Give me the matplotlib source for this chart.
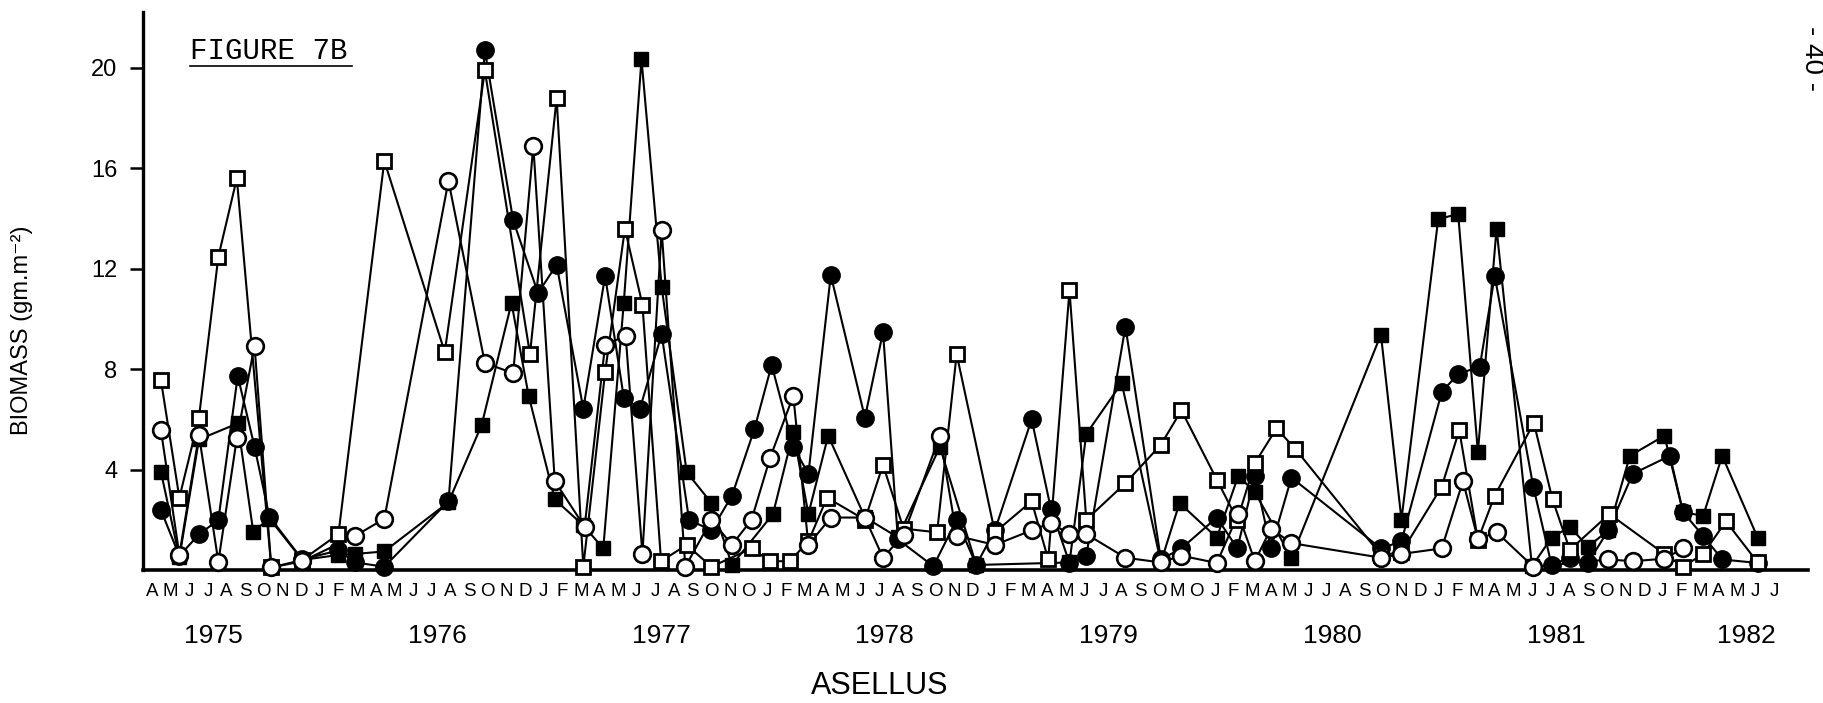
import matplotlib.pyplot as plt
from matplotlib.lines import Line2D
from matplotlib.transforms import blended_transform_factory

plt.rcParams['font.family'] = ['Liberation Sans', 'DejaVu Sans']

# month letters under the axis, as printed (typos kept)
month_labels = (list("AMJJASOND") + list("JFMAMJJASOND") + list("JFMAMJJASONO")
                + list("JFMAMJJASOND") + list("JFMAMJJASOMO") + list("JFMAMJJASOND")
                + list("JFMAMJJASOND") + list("JFMAMJJ"))
years = ['1975', '1976', '1977', '1978', '1979', '1980', '1981', '1982']

# (month index from April 1975, biomass)
filled_circle = [
    (0.48, 2.39), (1.47, 0.56), (2.52, 1.42), (3.56, 1.99), (4.6, 7.73), (5.5, 4.91),
    (6.3, 2.12), (8.06, 0.42), (10.0, 0.78), (10.9, 0.3), (12.46, 0.13), (15.9, 2.74),
    (17.85, 20.7), (19.37, 13.93), (20.7, 11.03), (21.7, 12.16), (23.13, 6.43),
    (24.3, 11.72), (25.3, 6.87), (26.17, 6.43), (27.33, 9.4), (28.8, 2.0), (30.0, 1.58),
    (31.1, 2.96), (32.3, 5.6), (33.23, 8.17), (34.39, 4.91), (35.2, 3.83), (36.4, 11.75),
    (38.23, 6.07), (39.2, 9.48), (40.0, 1.22), (41.9, 0.15), (43.15, 2.0), (44.2, 0.2),
    (45.2, 1.58), (47.17, 6.0), (48.2, 2.45), (49.2, 0.28), (50.1, 0.57), (52.2, 9.7),
    (54.1, 0.42), (55.2, 0.86), (57.1, 2.09), (58.2, 0.86), (59.14, 3.75), (60.0, 0.86),
    (61.1, 3.68), (65.9, 0.86), (67.0, 1.14), (69.16, 7.09), (70.04, 7.81), (71.2, 8.1),
    (72.0, 11.72), (74.07, 3.32), (75.05, 0.2), (76.03, 0.49), (77.0, 0.28), (78.09, 1.58),
    (79.4, 3.83), (81.4, 4.55), (82.1, 2.3), (83.18, 1.36), (84.2, 0.42), (86.1, 0.28),
]
open_circle = [
    (0.48, 5.58), (1.47, 0.6), (2.52, 5.38), (3.56, 0.33), (4.55, 5.24), (5.5, 8.94),
    (6.4, 0.1), (8.06, 0.35), (10.9, 1.36), (12.46, 2.04), (15.9, 15.5), (17.85, 8.25),
    (19.37, 7.84), (20.45, 16.9), (21.6, 3.54), (23.2, 1.72), (24.3, 8.97), (25.4, 9.33),
    (26.3, 0.64), (27.33, 13.54), (28.6, 0.13), (30.0, 2.0), (31.1, 1.0), (32.15, 2.0),
    (33.15, 4.48), (34.39, 6.94), (35.2, 1.0), (36.4, 2.09), (38.23, 2.09), (39.2, 0.49),
    (40.3, 1.4), (42.25, 5.35), (43.15, 1.36), (45.2, 1.0), (47.17, 1.58), (48.2, 1.87),
    (49.2, 1.43), (50.1, 1.43), (52.2, 0.49), (54.1, 0.3), (55.2, 0.57), (57.1, 0.28),
    (58.25, 2.23), (59.14, 0.35), (60.0, 1.65), (61.1, 1.07), (65.9, 0.49), (67.0, 0.64),
    (69.16, 0.86), (70.3, 3.54), (71.1, 1.22), (72.1, 1.51), (74.07, 0.13), (78.09, 0.42),
    (79.4, 0.35), (81.1, 0.45), (82.1, 0.86),
]
filled_square = [
    (0.48, 3.92), (1.47, 0.5), (2.52, 5.2), (4.6, 5.84), (5.43, 1.53), (6.3, 2.05),
    (8.06, 0.4), (10.0, 0.6), (10.9, 0.64), (12.46, 0.74), (15.9, 2.7), (17.68, 5.78),
    (19.28, 10.64), (20.2, 6.94), (21.6, 2.81), (23.1, 1.8), (24.2, 0.86), (25.3, 10.64),
    (26.25, 20.35), (27.33, 11.29), (28.67, 3.9), (30.0, 2.67), (31.1, 0.2), (33.3, 2.23),
    (34.39, 5.49), (35.2, 2.23), (36.26, 5.35), (38.23, 2.1), (40.0, 1.3), (42.25, 4.91),
    (44.2, 0.2), (49.2, 0.3), (50.1, 5.42), (52.0, 7.45), (54.1, 0.3), (55.1, 2.67),
    (57.1, 1.29), (58.25, 3.75), (59.14, 3.1), (61.1, 0.49), (65.9, 9.38), (67.0, 2.01),
    (68.97, 13.97), (70.04, 14.19), (71.1, 4.7), (72.1, 13.6), (74.0, 0.15), (75.05, 1.29),
    (76.03, 1.72), (77.0, 0.93), (78.1, 1.58), (79.25, 4.55), (81.1, 5.35), (82.1, 2.3),
    (83.18, 2.16), (84.2, 4.55), (86.1, 1.29),
]
open_square = [
    (0.48, 7.57), (1.47, 2.88), (2.52, 6.07), (3.56, 12.48), (4.55, 15.6), (6.4, 0.1),
    (8.06, 0.4), (10.0, 1.43), (12.46, 16.3), (15.7, 8.68), (17.85, 19.9), (20.27, 8.6),
    (21.7, 18.8), (23.13, 0.13), (24.3, 7.88), (25.36, 13.6), (26.3, 10.57), (27.3, 0.35),
    (28.67, 1.0), (30.0, 0.13), (32.15, 0.86), (33.15, 0.35), (34.2, 0.35), (35.2, 1.14),
    (36.2, 2.88), (38.23, 2.0), (39.2, 4.19), (40.3, 1.65), (42.1, 1.5), (43.15, 8.6),
    (45.2, 1.5), (47.17, 2.74), (48.06, 0.42), (49.2, 11.14), (50.1, 2.0), (52.2, 3.46),
    (54.1, 4.99), (55.2, 6.36), (57.1, 3.6), (58.2, 2.0), (59.14, 4.26), (60.3, 5.64),
    (61.29, 4.84), (65.9, 0.6), (67.0, 0.7), (69.16, 3.32), (70.1, 5.57), (71.1, 1.2),
    (72.0, 2.96), (74.1, 5.86), (75.1, 2.81), (76.03, 0.8), (78.15, 2.23), (81.1, 0.64),
    (82.1, 0.13), (83.18, 0.64), (84.4, 1.94), (86.1, 0.3),
]

W, H = 1823, 703
fig = plt.figure(figsize=(W / 100, H / 100), dpi=100)
ax = fig.add_axes([143 / W, 133 / H, 1665 / W, 558 / H])
ax.set_xlim(-0.48, 88.8)
ax.set_ylim(0, 22.23)

styles = [
    (filled_square, dict(marker='s', ms=10, mfc='black', mec='black')),
    (filled_circle, dict(marker='o', ms=12.5, mfc='black', mec='black')),
    (open_square, dict(marker='s', ms=9.5, mfc='white', mec='black', mew=2.0)),
    (open_circle, dict(marker='o', ms=12, mfc='white', mec='black', mew=1.9)),
]

# lines first, markers on top
for pts, st in styles:
    xs = [p[0] for p in pts]
    ys = [p[1] for p in pts]
    ax.plot(xs, ys, color='black', lw=1.5, zorder=2, clip_on=False)
for i, (pts, st) in enumerate(styles):
    xs = [p[0] for p in pts]
    ys = [p[1] for p in pts]
    ax.plot(xs, ys, ls='none', zorder=3 + i, clip_on=False, **st)

for side in ['top', 'right']:
    ax.spines[side].set_visible(False)
ax.spines['left'].set_linewidth(2.4)
ax.spines['bottom'].set_linewidth(2.6)

ax.set_yticks([4, 8, 12, 16, 20])
ax.tick_params(axis='y', length=9.5, width=1.8, pad=9, labelsize=17, direction='out')
ax.set_xticks(range(len(month_labels)))
ax.set_xticklabels(month_labels)
ax.tick_params(axis='x', length=0, pad=9, labelsize=13.5)

trans = blended_transform_factory(ax.transData, ax.transAxes)
year_x = [3.3 + 12 * k for k in range(7)] + [85.5]
for xp, yr in zip(year_x, years):
    ax.text(xp, -0.118, yr, transform=trans, ha='center', va='center', fontsize=19)

fig.text(880 / W, 1 - 686 / H, 'ASELLUS', ha='center', va='center', fontsize=22)
fig.text(22 / W, 1 - 330 / H, 'BIOMASS (gm.m⁻²)', rotation=90, ha='center', va='center',
         fontsize=17)
fig.text(190 / W, 1 - 59 / H, 'FIGURE 7B', family='Liberation Mono', fontsize=21,
         ha='left', va='baseline')
fig.add_artist(Line2D([190 / W, 352 / W], [1 - 66 / H, 1 - 66 / H], color='black', lw=1.2))
fig.text(1812 / W, 1 - 58 / H, '- 40 -', rotation=-90, ha='center', va='center', fontsize=20)

fig.savefig('out.png', dpi=100)
